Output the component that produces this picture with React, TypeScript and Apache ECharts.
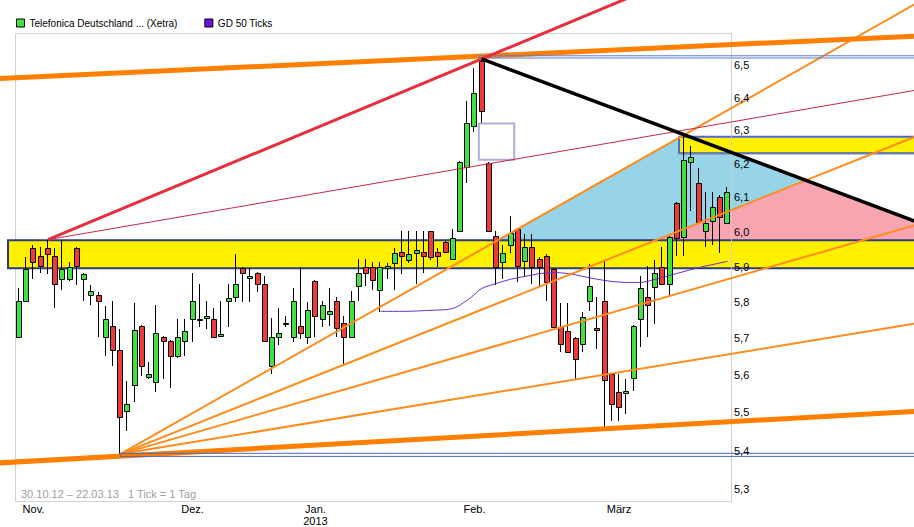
import React, { useEffect, useRef } from 'react';
import * as echarts from 'echarts';

// ---------- data (prices in EUR, one entry per trading day 30.10.12 .. 22.03.13) ----------
const OPEN = [
  5.712, 5.812, 5.962, 5.939, 5.962, 5.939, 5.874, 5.874, 5.962, 5.874,
  5.831, 5.829, 5.712, 5.742, 5.677, 5.513, 5.582, 5.742, 5.603, 5.59,
  5.712, 5.701, 5.66, 5.701, 5.762, 5.759, 5.765, 5.762, 5.715, 5.812,
  5.823, 5.907, 5.879, 5.893, 5.862, 5.633, 5.712, 5.751, 5.712, 5.742,
  5.712, 5.868, 5.762, 5.778, 5.812, 5.753, 5.712, 5.854, 5.91, 5.91,
  5.845, 5.907, 5.919, 5.953, 5.93, 5.95, 5.953, 6.011, 5.953, 5.979,
  5.933, 6.011, 6.201, 6.325, 6.525, 6.213, 5.999, 5.922, 5.973, 6.019,
  5.927, 5.967, 5.933, 5.939, 5.902, 5.74, 5.729, 5.709, 5.693, 5.812,
  5.737, 5.812, 5.611, 5.563, 5.561, 5.601, 5.762, 5.823, 5.851, 5.91,
  5.862, 6.095, 5.996, 6.216, 6.154, 6.013, 6.04, 6.112, 6.034,
];
const HIGH = [
  5.848, 5.936, 5.973, 5.967, 5.987, 5.962, 5.985, 5.922, 5.965, 5.893,
  5.859, 5.837, 5.798, 5.812, 5.734, 5.593, 5.806, 5.745, 5.644, 5.803,
  5.715, 5.704, 5.762, 5.762, 5.893, 5.862, 5.812, 5.792, 5.812, 5.862,
  5.947, 5.91, 5.905, 5.896, 5.882, 5.765, 5.792, 5.77, 5.848, 5.91,
  5.809, 5.871, 5.812, 5.848, 5.823, 5.77, 5.84, 5.933, 5.933, 5.922,
  5.922, 5.919, 5.962, 6.011, 6.011, 6.011, 6.011, 6.013, 5.962, 5.982,
  6.019, 6.219, 6.401, 6.503, 6.531, 6.216, 6.011, 5.973, 6.057, 6.022,
  6.002, 6.002, 5.936, 5.945, 5.905, 5.806, 5.806, 5.712, 5.781, 5.916,
  5.823, 5.93, 5.614, 5.611, 5.598, 5.745, 5.882, 5.913, 5.93, 5.967,
  5.999, 6.098, 6.297, 6.264, 6.198, 6.127, 6.127, 6.118, 6.142,
];
const LOW = [
  5.712, 5.812, 5.874, 5.893, 5.888, 5.792, 5.843, 5.868, 5.859, 5.812,
  5.801, 5.712, 5.66, 5.633, 5.4, 5.46, 5.537, 5.606, 5.598, 5.563,
  5.598, 5.574, 5.655, 5.66, 5.699, 5.74, 5.734, 5.709, 5.712, 5.74,
  5.809, 5.809, 5.809, 5.837, 5.699, 5.611, 5.69, 5.74, 5.699, 5.707,
  5.693, 5.712, 5.74, 5.742, 5.712, 5.633, 5.709, 5.812, 5.854, 5.845,
  5.781, 5.874, 5.845, 5.89, 5.919, 5.862, 5.893, 5.93, 5.91, 5.95,
  5.93, 6.008, 6.154, 6.306, 6.334, 6.008, 5.859, 5.876, 5.95, 5.865,
  5.882, 5.862, 5.854, 5.812, 5.737, 5.671, 5.668, 5.598, 5.671, 5.784,
  5.679, 5.471, 5.486, 5.486, 5.505, 5.566, 5.685, 5.712, 5.748, 5.859,
  5.831, 5.939, 5.939, 6.069, 6.034, 5.967, 5.973, 5.95, 6.031,
];
const CLOSE = [
  5.812, 5.902, 5.922, 5.913, 5.947, 5.862, 5.902, 5.91, 5.913, 5.888,
  5.84, 5.812, 5.762, 5.677, 5.497, 5.531, 5.731, 5.633, 5.611, 5.723,
  5.701, 5.66, 5.712, 5.729, 5.812, 5.762, 5.77, 5.712, 5.72, 5.82,
  5.862, 5.893, 5.882, 5.862, 5.701, 5.712, 5.723, 5.753, 5.812, 5.723,
  5.787, 5.77, 5.801, 5.784, 5.737, 5.712, 5.812, 5.893, 5.893, 5.871,
  5.91, 5.913, 5.95, 5.939, 5.947, 5.956, 5.939, 5.936, 5.939, 5.953,
  5.993, 6.216, 6.334, 6.426, 6.37, 6.011, 5.91, 5.95, 6.005, 5.913,
  5.965, 5.91, 5.91, 5.865, 5.74, 5.693, 5.671, 5.652, 5.767, 5.854,
  5.731, 5.595, 5.531, 5.523, 5.566, 5.742, 5.848, 5.803, 5.893, 5.862,
  5.996, 5.993, 6.222, 6.231, 6.037, 6.034, 6.083, 6.054, 6.127,
];

// GD 50 (at these day indices)
const MA_INDEX = [50, 53, 57, 60, 62, 63, 64, 66, 68, 70, 72, 74, 76, 78, 80, 82, 84, 86, 88, 90, 92, 94, 96, 98];
const MA_VALUE = [5.784, 5.784, 5.787, 5.792, 5.815, 5.831, 5.848, 5.862, 5.874, 5.882, 5.89, 5.893, 5.89, 5.882, 5.874, 5.868, 5.865, 5.865, 5.874, 5.885, 5.896, 5.907, 5.916, 5.925];

const MONTH_TICK_INDEX = [2, 24, 41, 63, 83];
const MONTH_LABELS = ['Nov.', 'Dez.', 'Jan.\n2013', 'Feb.', 'März'];
const PRICE_TICKS = [5.3, 5.4, 5.5, 5.6, 5.7, 5.8, 5.9, 6.0, 6.1, 6.2, 6.3, 6.4, 6.5];

const STOCK_NAME = 'Telefonica Deutschland ... (Xetra)';
const MA_NAME = 'GD 50 Ticks';
const FOOTNOTE = '30.10.12 – 22.03.13   1 Tick = 1 Tag';

// axis ranges
const X_MIN = -2.63;
const X_MAX = 123.8;
const PRICE_MIN = 5.282;
const PRICE_MAX = 6.719;

// drawing anchors (day index, price)
type P = [number, number];
const NOV_HIGH: P = [4, 5.987];
const FEB_HIGH: P = [64, 6.531];
const MAR_HIGH: P = [92, 6.297];
const NOV_LOW: P = [14, 5.4];
const THIN_RED_END: P = [120, 6.418];
const FAN2_END: P = [120, 6.257];
const FAN3_END: P = [120, 6.005];
const FAN4_END: P = [120, 5.737];
const TOP_CHANNEL: [P, P] = [[0, 6.473], [120, 6.599]];
const BOTTOM_CHANNEL: [P, P] = [[0, 5.38], [120, 5.508]];

const BAND_MAIN = { from: -1.52, top: 5.985, bottom: 5.905 };
const BAND_UPPER = { from: 91.3, top: 6.291, bottom: 6.241 };
const BOX = { from: 63.6, to: 68.5, top: 6.331, bottom: 6.222 };
const TOP_DOUBLE = { from: 63.6, top: 6.541, bottom: 6.534 };
const LOW_DOUBLE = { from: 14, top: 5.402, bottom: 5.394 };

// ---------- helpers ----------
const ln = Math.log;
const FAR_LEFT = -6;
const FAR_RIGHT = 132;

function lineFn(a: P, b: P) {
  const m = (ln(b[1]) - ln(a[1])) / (b[0] - a[0]);
  const c = ln(a[1]) - m * a[0];
  return { m, c };
}
function seg(a: P, b: P, from: number, to: number) {
  const f = lineFn(a, b);
  return [[from, f.m * from + f.c], [to, f.m * to + f.c]];
}
function atLevel(f: { m: number; c: number }, level: number): number[] {
  return [(level - f.c) / f.m, level];
}
function intersect(f: { m: number; c: number }, g: { m: number; c: number }): number[] {
  const x = (g.c - f.c) / (f.m - g.m);
  return [x, f.m * x + f.c];
}

const FONT = '"Liberation Sans", Arial, sans-serif';
const GREEN = '#3fe23f';
const RED = '#ef3a3a';
const ORANGE = '#ff8000';
const ORANGE_THIN = '#ff8c1c';

function lineSeries(data: number[][], color: string, width: number, z: number) {
  return {
    type: 'line',
    data,
    symbol: 'none',
    silent: true,
    z,
    lineStyle: { color, width },
    clip: true,
    animation: false,
  };
}

function rectSeries(box: { from: number; to?: number; top: number; bottom: number }, style: any, z: number, extra?: (p: any) => any[]) {
  return {
    type: 'custom',
    coordinateSystem: 'cartesian2d',
    silent: true,
    z,
    data: [[0, 0]],
    renderItem: (_params: any, api: any) => {
      const tl = api.coord([box.from, ln(box.top)]);
      const br = api.coord([box.to ?? FAR_RIGHT, ln(box.bottom)]);
      const children: any[] = [
        {
          type: 'rect',
          shape: { x: tl[0], y: tl[1], width: br[0] - tl[0], height: br[1] - tl[1] },
          style,
        },
      ];
      if (extra) children.push(...extra({ tl, br }));
      return { type: 'group', children };
    },
  };
}

function polygonSeries(points: number[][], fill: string, z: number) {
  return {
    type: 'custom',
    coordinateSystem: 'cartesian2d',
    silent: true,
    z,
    data: [[0, 0]],
    renderItem: (_params: any, api: any) => ({
      type: 'polygon',
      shape: { points: points.map((p) => api.coord(p)) },
      style: { fill },
    }),
  };
}

export default function App() {
  const ref = useRef<HTMLDivElement>(null);

  useEffect(() => {
    if (!ref.current) return;
    const chart = echarts.init(ref.current, undefined, { renderer: 'svg' });

    const candles = OPEN.map((o, i) => [i, ln(o), ln(HIGH[i]), ln(LOW[i]), ln(CLOSE[i])]);
    const ma = MA_INDEX.map((x, k) => [x, ln(MA_VALUE[k])]);

    const fan1 = lineFn(NOV_LOW, MAR_HIGH);
    const fan2 = lineFn(NOV_LOW, FAN2_END);
    const black = lineFn(FEB_HIGH, MAR_HIGH);
    const bandTop = ln(BAND_MAIN.top);
    const v1 = atLevel(fan1, bandTop);
    const v2 = [MAR_HIGH[0], ln(MAR_HIGH[1])];
    const v3 = intersect(black, fan2);
    const v4 = atLevel(fan2, bandTop);
    const bluePoly = [v1, v2, v3, v4];
    const pinkPoly = [v4, v3, [FAR_RIGHT, black.m * FAR_RIGHT + black.c], [FAR_RIGHT, bandTop]];

    const option: any = {
      animation: false,
      backgroundColor: '#ffffff',
      grid: { left: 0, right: 0, top: 0, bottom: 26, containLabel: false },
      legend: {
        left: 16,
        top: 18,
        padding: 0,
        itemWidth: 8,
        itemHeight: 8,
        itemGap: 27,
        selectedMode: false,
        textStyle: { fontSize: 10, color: '#000', fontFamily: FONT },
        data: [
          { name: STOCK_NAME, icon: 'rect', itemStyle: { color: GREEN, borderColor: '#000', borderWidth: 1 } },
          { name: MA_NAME, icon: 'rect', itemStyle: { color: '#6a14e0', borderColor: '#000', borderWidth: 1 } },
        ],
      },
      graphic: [
        {
          type: 'rect',
          z: 0,
          silent: true,
          shape: { x: 15.5, y: 33.5, width: 716, height: 468 },
          style: { fill: 'none', stroke: '#d2d2d2', lineWidth: 1 },
        },
        {
          type: 'line',
          z: 2.5,
          silent: true,
          shape: { x1: 731.5, y1: 33, x2: 731.5, y2: 501 },
          style: { stroke: '#cfcfcf', lineWidth: 1, opacity: 0.8 },
        },
        {
          type: 'text',
          z: 10,
          silent: true,
          x: 21,
          y: 494,
          style: { text: FOOTNOTE, fill: '#a0a0a0', font: `11px ${FONT}`, textVerticalAlign: 'middle' },
        },
      ],
      xAxis: {
        type: 'value',
        min: X_MIN,
        max: X_MAX,
        axisLine: { show: false },
        axisTick: { show: false },
        splitLine: { show: false },
        axisLabel: {
          customValues: MONTH_TICK_INDEX,
          formatter: (v: number) => {
            const k = MONTH_TICK_INDEX.indexOf(Math.round(v));
            return k >= 0 ? MONTH_LABELS[k] : '';
          },
          color: '#000',
          fontSize: 11,
          fontFamily: FONT,
          margin: 3,
          lineHeight: 12,
        },
      },
      yAxis: {
        type: 'value',
        position: 'right',
        offset: -183,
        z: 20,
        min: ln(PRICE_MIN),
        max: ln(PRICE_MAX),
        axisLine: { show: false },
        axisTick: { show: false },
        splitLine: { show: false },
        axisLabel: {
          customValues: PRICE_TICKS.map(ln),
          formatter: (v: number) => Math.exp(v).toFixed(1).replace('.', ','),
          color: '#000',
          fontSize: 11,
          fontFamily: FONT,
          margin: 3,
          verticalAlign: 'bottom',
          lineHeight: 7,
        },
      },
      series: [
        polygonSeries(bluePoly, '#98d4e7', 1),
        polygonSeries(pinkPoly, '#f8a5b2', 1),
        rectSeries(BAND_MAIN, { fill: '#fff000', stroke: '#2e3a7e', lineWidth: 2 }, 2),
        rectSeries(BAND_UPPER, { fill: '#fff000', stroke: '#4a6ad2', lineWidth: 2 }, 2, ({ tl, br }) => [
          {
            type: 'line',
            shape: { x1: tl[0], y1: br[1], x2: br[0], y2: br[1] },
            style: { stroke: '#6e7c9c', lineWidth: 2 },
          },
        ]),
        {
          name: STOCK_NAME,
          type: 'custom',
          coordinateSystem: 'cartesian2d',
          silent: true,
          z: 3,
          encode: { x: 0, y: [1, 2, 3, 4] },
          data: candles,
          renderItem: (_params: any, api: any) => {
            const i = api.value(0);
            const o = api.coord([i, api.value(1)]);
            const h = api.coord([i, api.value(2)]);
            const l = api.coord([i, api.value(3)]);
            const c = api.coord([i, api.value(4)]);
            const cx = Math.round(o[0]);
            const up = api.value(4) >= api.value(1);
            const yTop = Math.round(Math.min(o[1], c[1]));
            const yBot = Math.round(Math.max(o[1], c[1]));
            return {
              type: 'group',
              children: [
                {
                  type: 'line',
                  shape: { x1: cx - 0.5, y1: Math.round(h[1]), x2: cx - 0.5, y2: Math.round(l[1]) },
                  style: { stroke: '#000', lineWidth: 1 },
                },
                {
                  type: 'rect',
                  shape: { x: cx - 2.5, y: yTop + 0.5, width: 5, height: Math.max(yBot - yTop, 1) },
                  style: { fill: up ? GREEN : RED, stroke: '#000', lineWidth: 1 },
                },
              ],
            };
          },
        },
        {
          name: MA_NAME,
          type: 'line',
          data: ma,
          symbol: 'none',
          smooth: 0.3,
          silent: true,
          z: 4,
          lineStyle: { color: '#6a2ec8', width: 1 },
        },
        // fan from the November low
        lineSeries(seg(NOV_LOW, MAR_HIGH, NOV_LOW[0], FAR_RIGHT), ORANGE_THIN, 2, 5),
        lineSeries(seg(NOV_LOW, FAN2_END, NOV_LOW[0], FAR_RIGHT), ORANGE_THIN, 2, 5),
        lineSeries(seg(NOV_LOW, FAN3_END, NOV_LOW[0], FAR_RIGHT), ORANGE_THIN, 2, 5),
        lineSeries(seg(NOV_LOW, FAN4_END, NOV_LOW[0], FAR_RIGHT), ORANGE_THIN, 2, 5),
        // thin red from November high
        lineSeries(seg(NOV_HIGH, THIN_RED_END, NOV_HIGH[0], FAR_RIGHT), '#c8284a', 1, 5),
        // lavender box
        rectSeries(BOX, { fill: 'none', stroke: '#b4acd8', lineWidth: 2 }, 5),
        // thick channel lines
        lineSeries(seg(TOP_CHANNEL[0], TOP_CHANNEL[1], FAR_LEFT, FAR_RIGHT), ORANGE, 5, 6),
        lineSeries(seg(BOTTOM_CHANNEL[0], BOTTOM_CHANNEL[1], FAR_LEFT, FAR_RIGHT), ORANGE, 5, 6),
        // double horizontal lines
        rectSeries(TOP_DOUBLE, { fill: 'none', stroke: '#5a78d0', lineWidth: 1 }, 7),
        rectSeries(LOW_DOUBLE, { fill: 'none', stroke: '#4a68c0', lineWidth: 1 }, 7),
        // red high-to-high line
        lineSeries(seg(NOV_HIGH, FEB_HIGH, NOV_HIGH[0], FAR_RIGHT), '#e62e3c', 3, 7),
        // black down trend
        lineSeries(seg(FEB_HIGH, MAR_HIGH, FEB_HIGH[0], FAR_RIGHT), '#000000', 3.5, 8),
      ],
    };

    chart.setOption(option);
    return () => chart.dispose();
  }, []);

  return (
    <div
      ref={ref}
      style={{ position: 'fixed', left: 0, top: 0, width: 914, height: 527, background: '#fff' }}
    />
  );
}
